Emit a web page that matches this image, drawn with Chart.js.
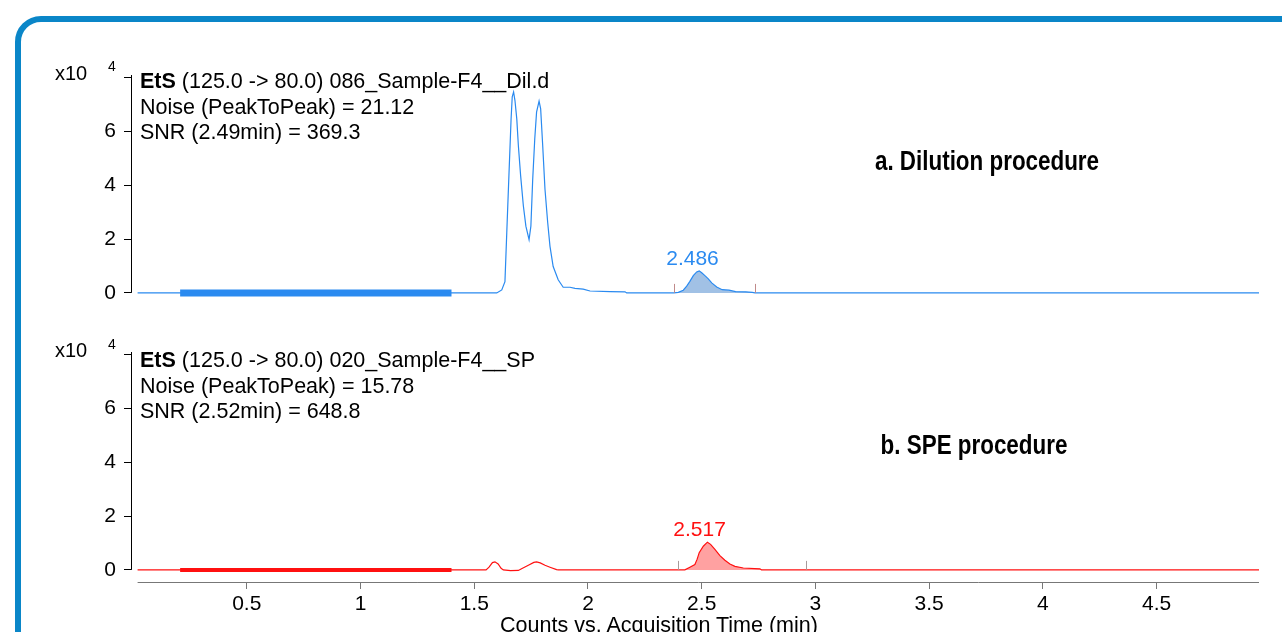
<!DOCTYPE html>
<html>
<head>
<meta charset="utf-8">
<script src="https://cdn.jsdelivr.net/npm/chart.js@4.4.1/dist/chart.umd.min.js"></script>
<style>
  body { margin: 0; background: #fff; overflow: hidden; font-family: "Liberation Sans", Arial, sans-serif; }
  #page { position: relative; width: 1282px; height: 632px; overflow: hidden; background: #fff; }
  #frame { position: absolute; left: 15px; top: 16px; width: 1400px; height: 800px; border: 6px solid #0a86c8; border-radius: 26px; box-sizing: border-box; }
  canvas { position: absolute; left: 0; }
  #topChart { top: 0; }
  #bottomChart { top: 310px; }
  .txt { position: absolute; white-space: nowrap; color: #000; font-size: 21.5px; }
  .info { line-height: 25.5px; }
  .proc { font-family: "Liberation Sans", Arial, sans-serif; font-weight: bold; font-size: 27px; transform: translate(-50%, -50%) scaleX(0.83); }
  .exp { font-size: 20px; }
  .sup { font-size: 14px; }
</style>
</head>
<body>
<div id="page">
  <div id="frame"></div>
  <canvas id="topChart" width="1282" height="310"></canvas>
  <canvas id="bottomChart" width="1282" height="340"></canvas>

  <div class="txt exp" style="left:55px; top:62px;">x10</div>
  <div class="txt sup" style="left:108px; top:58px;">4</div>
  <div class="txt info" style="left:140px; top:69px;"><b>EtS</b> (125.0 -&gt; 80.0) 086_Sample-F4__Dil.d<br>Noise (PeakToPeak) = 21.12<br>SNR (2.49min) = 369.3</div>
  <div class="txt proc" style="left:987px; top:161px;">a. Dilution procedure</div>

  <div class="txt exp" style="left:55px; top:339px;">x10</div>
  <div class="txt sup" style="left:108px; top:336px;">4</div>
  <div class="txt info" style="left:140px; top:348px;"><b>EtS</b> (125.0 -&gt; 80.0) 020_Sample-F4__SP<br>Noise (PeakToPeak) = 15.78<br>SNR (2.52min) = 648.8</div>
  <div class="txt proc" style="left:974px; top:445px;">b. SPE procedure</div>

  <div class="txt" style="left:659px; top:613px; transform: translateX(-50%);">Counts vs. Acquisition Time (min)</div>
</div>

<script>
// acquisition time (min) and counts (x10^4)
const dilTime = [0.02, 1.40, 1.599, 1.621, 1.635, 1.643, 1.653, 1.662, 1.667, 1.673, 1.679, 1.687, 1.694,
  1.704, 1.716, 1.727, 1.741, 1.749, 1.757, 1.766, 1.774, 1.785, 1.792, 1.801, 1.811, 1.823, 1.833, 1.847,
  1.869, 1.891, 1.921, 1.943, 1.979, 2.009, 2.097, 2.163, 2.17, 2.378, 2.397, 2.419, 2.434, 2.448, 2.463,
  2.478, 2.489, 2.50, 2.514, 2.529, 2.544, 2.566, 2.59, 2.62, 2.649, 2.693, 2.722, 2.734, 4.95];
const dilCounts = [0, 0, 0, 0.11, 0.42, 2.24, 4.49, 6.47, 7.29, 7.47, 7.15, 6.47, 5.47,
  4.35, 3.23, 2.48, 1.98, 2.48, 4.22, 5.72, 6.72, 7.13, 6.84, 5.47, 3.85, 2.61, 1.73, 0.98,
  0.49, 0.21, 0.21, 0.17, 0.14, 0.07, 0.05, 0.04, 0, 0, 0.02, 0.10, 0.25, 0.43, 0.64,
  0.78, 0.82, 0.75, 0.64, 0.52, 0.37, 0.22, 0.12, 0.10, 0.05, 0.04, 0.02, 0, 0];

const speTime = [0.02, 1.40, 1.552, 1.565, 1.58, 1.591, 1.605, 1.618, 1.628, 1.66, 1.694, 1.71, 1.74,
  1.762, 1.774, 1.79, 1.811, 1.833, 1.862, 1.87, 2.394, 2.426, 2.448, 2.47, 2.48, 2.489, 2.507, 2.525,
  2.539, 2.558, 2.58, 2.602, 2.624, 2.646, 2.683, 2.756, 2.763, 2.958, 4.95];
const speCounts = [0, 0, 0, 0.10, 0.27, 0.30, 0.22, 0.06, 0, -0.03, -0.02, 0.05, 0.18,
  0.28, 0.30, 0.26, 0.17, 0.10, 0.01, 0, 0, 0, 0.10, 0.20, 0.40, 0.64, 0.88, 1.03,
  0.95, 0.76, 0.53, 0.36, 0.22, 0.13, 0.07, 0.04, 0, 0, 0];

// noise region and integrated peak (start, end, retention time)
const noiseRange = [0.207, 1.40];
const dilPeak = [2.378, 2.734, 2.486];
const spePeak = [2.394, 2.958, 2.517];

const xTicks = [0.5, 1, 1.5, 2, 2.5, 3, 3.5, 4, 4.5];
const yTicks = [0, 2, 4, 6, 8];

Chart.defaults.font.family = '"Liberation Sans", Arial, sans-serif';
Chart.defaults.font.size = 21;
Chart.defaults.color = '#000';

function points(t, c) {
  return t.map((x, i) => ({ x: x, y: c[i] }));
}

// axis lines and peak markers
const decorate = {
  id: 'decorate',
  afterDatasetsDraw(chart, args, opts) {
    const ctx = chart.ctx, x = chart.scales.x, y = chart.scales.y;
    ctx.save();
    ctx.strokeStyle = '#000';
    ctx.lineWidth = 1;
    ctx.beginPath();
    ctx.moveTo(chart.chartArea.left + 0.5, y.getPixelForValue(y.max));
    ctx.lineTo(chart.chartArea.left + 0.5, y.getPixelForValue(0));
    ctx.stroke();
    if (opts.xLine) {
      ctx.strokeStyle = '#777';
      ctx.beginPath();
      ctx.moveTo(x.getPixelForValue(opts.xLine), chart.chartArea.bottom + 0.5);
      ctx.lineTo(chart.chartArea.right, chart.chartArea.bottom + 0.5);
      ctx.stroke();
    }
    const p = opts.peak;
    const y0 = y.getPixelForValue(0);
    ctx.strokeStyle = opts.markColor;
    [p[0], p[1]].forEach(v => {
      const px = Math.round(x.getPixelForValue(v)) + 0.5;
      ctx.beginPath();
      ctx.moveTo(px, y0);
      ctx.lineTo(px, y0 - 9);
      ctx.stroke();
    });
    const apex = Math.max.apply(null, opts.counts.filter((c, i) => opts.time[i] >= p[0] && opts.time[i] <= p[1]));
    ctx.fillStyle = opts.labelColor;
    ctx.font = '21px "Liberation Sans", Arial, sans-serif';
    ctx.textAlign = 'center';
    ctx.textBaseline = 'bottom';
    ctx.fillText(p[2].toFixed(3), x.getPixelForValue(p[2]) - 6, y.getPixelForValue(apex) - 1);
    ctx.restore();
  }
};

function makeChart(id, time, counts, peak, color, fillColor, markColor, noiseWidth, showX, pad) {
  const peakPts = points(time, counts).filter(p => p.x >= peak[0] && p.x <= peak[1]);
  return new Chart(document.getElementById(id), {
    type: 'line',
    data: {
      datasets: [
        { data: points(time, counts), borderColor: color, borderWidth: 1.2, pointRadius: 0, tension: 0, fill: false },
        { data: [{ x: noiseRange[0], y: 0 }, { x: noiseRange[1], y: 0 }], borderColor: color, borderWidth: noiseWidth, borderCapStyle: 'butt', pointRadius: 0, fill: false },
        { data: peakPts, borderWidth: 0, backgroundColor: fillColor, pointRadius: 0, tension: 0, fill: 'origin' }
      ]
    },
    options: {
      responsive: false,
      animation: false,
      devicePixelRatio: 1,
      layout: { padding: pad },
      plugins: {
        legend: { display: false },
        tooltip: { enabled: false },
        decorate: { peak: peak, time: time, counts: counts, markColor: markColor, labelColor: color, xLine: showX ? time[0] : null }
      },
      scales: {
        x: {
          type: 'linear', min: -0.009, max: 4.95,
          display: showX,
          afterBuildTicks: s => { s.ticks = xTicks.map(v => ({ value: v })); },
          afterFit: s => { s.height = showX ? 68 : 0; s.paddingLeft = 0; s.paddingRight = 0; },
          border: { display: false },
          grid: { drawOnChartArea: false, drawTicks: true, tickLength: 7, color: '#777' },
          ticks: { padding: 3, maxRotation: 0, callback: v => String(v) }
        },
        y: {
          min: -0.45, max: 8.1,
          afterBuildTicks: s => { s.ticks = yTicks.map(v => ({ value: v })); },
          afterFit: s => { s.width = 131; s.paddingTop = 0; s.paddingBottom = 0; },
          border: { display: false },
          grid: { drawOnChartArea: false, drawTicks: true, tickLength: 7, color: '#000' },
          ticks: { padding: 8, callback: v => (v === 8 ? '' : String(v)) }
        }
      }
    },
    plugins: [decorate]
  });
}

makeChart('topChart', dilTime, dilCounts, dilPeak, '#2a8af0', 'rgba(110,160,215,0.65)', '#c08a8a', 7, false,
  { top: 75, bottom: 5, left: 0, right: 23 });
makeChart('bottomChart', speTime, speCounts, spePeak, '#ff1010', 'rgba(255,110,110,0.65)', '#a89a9a', 4, true,
  { top: 42, bottom: 0, left: 0, right: 23 });
</script>
</body>
</html>
